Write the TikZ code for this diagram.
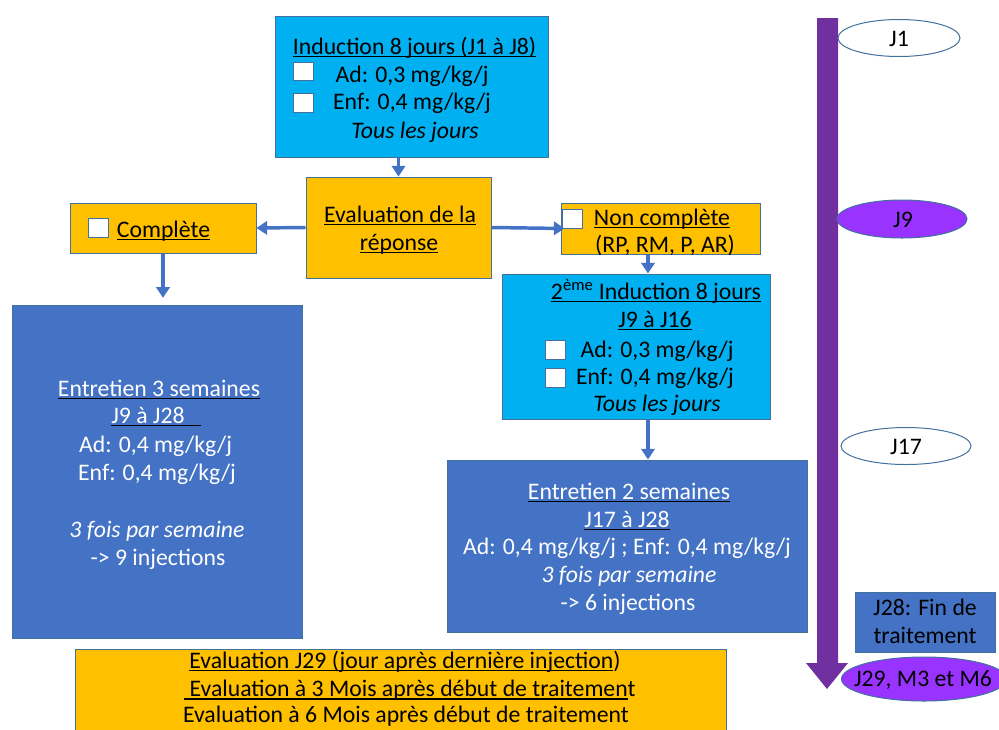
\documentclass[tikz,border=0pt]{standalone}
\usepackage{fontspec}
\setmainfont{Carlito}
\usetikzlibrary{shapes.geometric,arrows.meta}
\definecolor{cyanc}{HTML}{00B0F0}
\definecolor{orangec}{HTML}{FFC000}
\definecolor{bluec}{HTML}{4472C4}
\definecolor{borderc}{HTML}{41719C}
\definecolor{purpa}{HTML}{7030A0}
\definecolor{purpe}{HTML}{9933FF}
\newcommand\fsz{\fontsize{17.8}{21}\selectfont}
\newcommand\ulb[1]{\setbox0\hbox{#1}\rlap{\color{black}\rule[-2.6pt]{\wd0}{1.2pt}}\box0}
\tikzset{
  boxn/.style={draw=borderc, line width=0.75pt, inner sep=0pt},
  chk/.style={draw=borderc, fill=white, line width=0.75pt, inner sep=0pt, minimum width=15pt, minimum height=14pt},
  txt/.style={inner sep=0pt, anchor=base, font=\fsz},
  arr/.style={draw=bluec, line width=2.6pt, -{Triangle[length=8pt,width=10pt]}},
  ell/.style={ellipse, draw=borderc, line width=0.75pt, inner sep=0pt},
}
\begin{document}
\begin{tikzpicture}[x=0.75pt,y=-0.75pt]
\useasboundingbox (0,0) rectangle (999,729);
% boxes
\node[boxn, fill=cyanc, minimum width=273*0.75pt, minimum height=141*0.75pt] (ind) at (411.5,86.5) {};
\node[boxn, fill=orangec, minimum width=185*0.75pt, minimum height=101*0.75pt] (eval) at (398.5,227.5) {};
\node[boxn, fill=orangec, minimum width=186*0.75pt, minimum height=50*0.75pt] (comp) at (163,228) {};
\node[boxn, fill=orangec, minimum width=199*0.75pt, minimum height=51*0.75pt] (non) at (660.5,228.5) {};
\node[boxn, fill=cyanc, minimum width=268*0.75pt, minimum height=145*0.75pt] (ind2) at (636,346.5) {};
\node[boxn, fill=bluec, minimum width=290*0.75pt, minimum height=333*0.75pt] (ent3) at (157,471.5) {};
\node[boxn, fill=bluec, minimum width=360*0.75pt, minimum height=172*0.75pt] (ent2) at (627,546) {};
\node[boxn, fill=orangec, minimum width=651*0.75pt, minimum height=90*0.75pt] (bot) at (400.5,694) {};
% induction text
\node[txt] (t1) at (414.5,54) {\ulb{Induction 8 jours (J1 à J8)}};
\node[chk] (c1) at (303.5,71.5) {};
\node[txt] (t2) at (412,82) {Ad: 0,3 mg/kg/j};
\node[chk] (c2) at (303.5,103) {};
\node[txt] (t3) at (412,109) {Enf: 0,4 mg/kg/j};
\node[txt] (t4) at (415,138) {\itshape Tous les jours};
% evaluation
\node[txt] (e1) at (400,222) {\ulb{Evaluation de la}};
\node[txt] (e2) at (399,250) {\ulb{réponse}};
% complete
\node[chk] (c3) at (98.5,228) {};
\node[txt] (cp) at (163.5,237) {\ulb{Complète}};
% non complete
\node[chk] (c4) at (572.5,219) {};
\node[txt] (n1) at (662,225) {\ulb{Non complète}};
\node[txt] (n2) at (665,252) {(RP, RM, P, AR)};
% second induction
\node[txt] (i1) at (656,299) {\ulb{2\textsuperscript{ème} Induction 8 jours}};
\node[txt] (i2) at (655,327) {\ulb{J9 à J16}};
\node[chk] (c5) at (555.5,350) {};
\node[txt] (i3) at (657,357) {Ad: 0,3 mg/kg/j};
\node[chk] (c6) at (555.5,378) {};
\node[txt] (i4) at (655,384) {Enf: 0,4 mg/kg/j};
\node[txt] (i5) at (657,411) {\itshape Tous les jours};
% entretien 3
\begin{scope}[every node/.append style={text=white}]
\node[txt] (a1) at (159,396) {\ulb{Entretien 3 semaines}};
\node[txt] (a2) at (156,423) {\ulb{J9 à J28\ \ \ }};
\node[txt] (a3) at (155.5,452) {Ad: 0,4 mg/kg/j};
\node[txt] (a4) at (157,480) {Enf: 0,4 mg/kg/j};
\node[txt] (a5) at (157,537) {\itshape 3 fois par semaine};
\node[txt] (a6) at (158,565) {-> 9 injections};
% entretien 2
\node[txt] (b1) at (629,499) {\ulb{Entretien 2 semaines}};
\node[txt] (b2) at (627,527) {\ulb{J17 à J28}};
\node[txt] (b3) at (627,554) {Ad: 0,4 mg/kg/j ; Enf: 0,4 mg/kg/j};
\node[txt] (b4) at (629,582) {\itshape 3 fois par semaine};
\node[txt] (b5) at (628,610) {-> 6 injections};
\end{scope}
% bottom
\node[txt] (d1) at (405,668) {\ulb{Evaluation J29 (jour après dernière injection})};
\node[txt] (d2) at (410,696.5) {\ulb{\ Evaluation à 3 Mois après début de traitemen}t};
\node[txt] (d3) at (406,722.5) {Evaluation à 6 Mois après début de traitement};
% arrows
\draw[arr] (eval.north |- ind.south) -- (eval.north);
\draw[arr] (eval.west) -- (comp.east);
\draw[arr] (eval.east) -- ([xshift=3pt]non.west);
\draw[arr, shorten >=5pt] (comp.south) -- (comp.south |- ent3.north);
\draw[arr] ([xshift=-9.4pt]non.south) -- ([xshift=-9.4pt]non.south |- ind2.north);
\draw[arr] ([xshift=9pt]ind2.south) -- ([xshift=9pt]ind2.south |- ent2.north);
% timeline
\fill[purpa] (817,18) -- (838,18) -- (838,663) -- (848,663) -- (827,689) -- (806,663) -- (817,663) -- cycle;
\node[ell, fill=white, minimum width=122*0.75pt, minimum height=37*0.75pt] (j1) at (899,38) {};
\node[txt] at (899,46) {J1};
\node[ell, fill=purpe, minimum width=130*0.75pt, minimum height=38*0.75pt] (j9) at (902,219) {};
\node[txt] at (903,227) {J9};
\node[ell, fill=white, minimum width=130*0.75pt, minimum height=37*0.75pt] (j17) at (906,446) {};
\node[txt] at (906,454) {J17};
\node[boxn, fill=bluec, minimum width=140*0.75pt, minimum height=60*0.75pt] (j28) at (925,622) {};
\node[txt] at (925,615) {J28: Fin de};
\node[txt] at (925,643) {traitement};
\node[ell, fill=purpe, minimum width=165*0.75pt, minimum height=44*0.75pt] (j29) at (924,679) {};
\node[txt] at (923,686) {J29, M3 et M6};
\end{tikzpicture}
\end{document}
